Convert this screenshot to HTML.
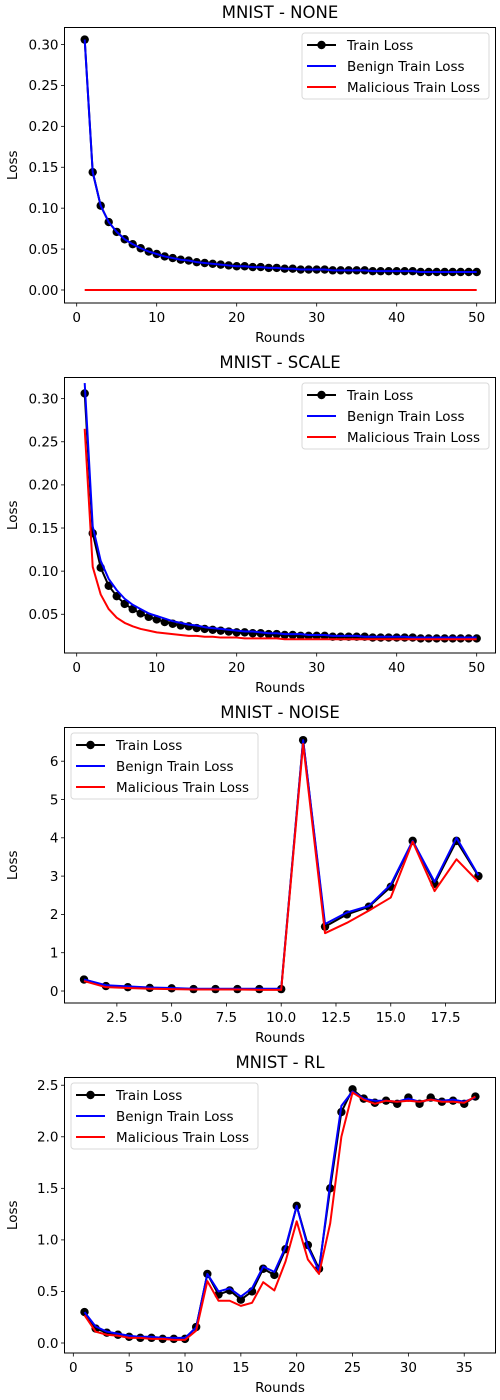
<!DOCTYPE html>
<html><head><meta charset="utf-8"><style>
html,body{margin:0;padding:0;background:#fff;}
svg{display:block;font-family:"DejaVu Sans","Liberation Sans",sans-serif;}
</style></head><body>
<svg id="fig" width="500" height="1400" viewBox="0 0 500 1400" xmlns="http://www.w3.org/2000/svg"></svg>
<script>
// ---- Panel 1: MNIST - NONE
const p1Rounds = Array.from({length:50},(_,i)=>i+1);
const p1Train = [0.306,0.144,0.103,0.083,0.071,0.062,0.056,0.051,0.047,0.044,0.041,0.039,0.037,0.036,0.034,0.033,0.032,0.031,0.030,0.029,0.029,0.028,0.028,0.027,0.027,0.026,0.026,0.025,0.025,0.025,0.025,0.024,0.024,0.024,0.024,0.024,0.023,0.023,0.023,0.023,0.023,0.023,0.022,0.022,0.022,0.022,0.022,0.022,0.022,0.022];
const p1Benign = [0.306,0.144,0.103,0.083,0.071,0.062,0.056,0.051,0.047,0.044,0.041,0.039,0.037,0.036,0.034,0.033,0.032,0.031,0.030,0.029,0.029,0.028,0.028,0.027,0.027,0.026,0.026,0.025,0.025,0.025,0.025,0.024,0.024,0.024,0.024,0.024,0.023,0.023,0.023,0.023,0.023,0.023,0.022,0.022,0.022,0.022,0.022,0.022,0.022,0.022];
const p1Malicious = [0,0,0,0,0,0,0,0,0,0,0,0,0,0,0,0,0,0,0,0,0,0,0,0,0,0,0,0,0,0,0,0,0,0,0,0,0,0,0,0,0,0,0,0,0,0,0,0,0,0];
const p1YTicks = [0,0.05,0.10,0.15,0.20,0.25,0.30];
const p1YLabels = ["0.00","0.05","0.10","0.15","0.20","0.25","0.30"];
const p1XTicks = [0,10,20,30,40,50];
const p1XLabels = ["0","10","20","30","40","50"];
// ---- Panel 2: MNIST - SCALE
const p2Rounds = Array.from({length:50},(_,i)=>i+1);
const p2Train = [0.306,0.144,0.104,0.083,0.071,0.062,0.056,0.051,0.047,0.044,0.041,0.039,0.037,0.036,0.034,0.033,0.032,0.031,0.030,0.029,0.029,0.028,0.028,0.027,0.027,0.026,0.026,0.025,0.025,0.025,0.025,0.024,0.024,0.024,0.024,0.024,0.023,0.023,0.023,0.023,0.023,0.023,0.022,0.022,0.022,0.022,0.022,0.022,0.022,0.022];
const p2Benign = [0.318,0.152,0.112,0.091,0.078,0.068,0.061,0.056,0.051,0.048,0.045,0.042,0.040,0.038,0.037,0.035,0.034,0.033,0.032,0.031,0.030,0.030,0.029,0.028,0.028,0.027,0.027,0.027,0.026,0.026,0.026,0.025,0.025,0.025,0.025,0.024,0.024,0.024,0.024,0.024,0.024,0.023,0.023,0.023,0.023,0.023,0.023,0.023,0.023,0.023];
const p2Malicious = [0.265,0.105,0.073,0.056,0.046,0.040,0.036,0.033,0.031,0.029,0.028,0.027,0.026,0.025,0.025,0.024,0.024,0.023,0.023,0.023,0.022,0.022,0.022,0.022,0.022,0.021,0.021,0.021,0.021,0.021,0.021,0.021,0.021,0.021,0.021,0.021,0.021,0.021,0.021,0.021,0.021,0.021,0.021,0.021,0.021,0.021,0.021,0.021,0.021,0.021];
const p2YTicks = [0.05,0.10,0.15,0.20,0.25,0.30];
const p2YLabels = ["0.05","0.10","0.15","0.20","0.25","0.30"];
const p2XTicks = [0,10,20,30,40,50];
const p2XLabels = ["0","10","20","30","40","50"];
// ---- Panel 3: MNIST - NOISE
const p3Rounds = Array.from({length:19},(_,i)=>i+1);
const p3Train = [0.30,0.13,0.10,0.08,0.07,0.05,0.05,0.05,0.05,0.05,6.55,1.68,2.00,2.20,2.72,3.92,2.80,3.92,3.00];
const p3Benign = [0.30,0.15,0.12,0.09,0.08,0.06,0.06,0.06,0.06,0.06,6.55,1.75,2.05,2.22,2.78,3.92,2.85,4.00,3.02];
const p3Malicious = [0.26,0.10,0.08,0.06,0.05,0.04,0.04,0.04,0.03,0.03,6.45,1.51,1.78,2.10,2.44,3.90,2.61,3.44,2.85];
const p3YTicks = [0,1,2,3,4,5,6];
const p3YLabels = ["0","1","2","3","4","5","6"];
const p3XTicks = [2.5,5,7.5,10,12.5,15,17.5];
const p3XLabels = ["2.5","5.0","7.5","10.0","12.5","15.0","17.5"];
// ---- Panel 4: MNIST - RL
const p4Rounds = Array.from({length:36},(_,i)=>i+1);
const p4Train = [0.30,0.14,0.10,0.08,0.06,0.05,0.05,0.04,0.04,0.04,0.155,0.67,0.47,0.51,0.42,0.50,0.72,0.66,0.91,1.33,0.95,0.72,1.50,2.24,2.46,2.37,2.33,2.35,2.32,2.38,2.32,2.38,2.34,2.35,2.32,2.39];
const p4Benign = [0.30,0.16,0.11,0.09,0.07,0.06,0.06,0.05,0.05,0.05,0.15,0.67,0.50,0.53,0.45,0.53,0.74,0.69,0.93,1.33,0.93,0.70,1.55,2.30,2.44,2.37,2.35,2.35,2.34,2.37,2.34,2.36,2.35,2.36,2.34,2.38];
const p4Malicious = [0.27,0.11,0.08,0.07,0.05,0.05,0.04,0.04,0.03,0.03,0.12,0.60,0.41,0.41,0.36,0.39,0.59,0.51,0.79,1.18,0.81,0.67,1.16,2.00,2.43,2.36,2.32,2.35,2.34,2.35,2.34,2.36,2.34,2.34,2.33,2.39];
const p4YTicks = [0,0.5,1.0,1.5,2.0,2.5];
const p4YLabels = ["0.0","0.5","1.0","1.5","2.0","2.5"];
const p4XTicks = [0,5,10,15,20,25,30,35];
const p4XLabels = ["0","5","10","15","20","25","30","35"];

const NS='http://www.w3.org/2000/svg';
const svg=document.getElementById('fig');
function mk(tag,attrs,parent){const e=document.createElementNS(NS,tag);for(const k in attrs)e.setAttribute(k,attrs[k]);(parent||svg).appendChild(e);return e;}

const panels=[
 {key:'none',title:'MNIST - NONE',x:p1Rounds,tr:p1Train,be:p1Benign,ma:p1Malicious,yt:p1YTicks,yl:p1YLabels,xt:p1XTicks,xl:p1XLabels,xd:[-1.525,52.35],yd:[-0.0159,0.3208],leg:'right'},
 {key:'scale',title:'MNIST - SCALE',x:p2Rounds,tr:p2Train,be:p2Benign,ma:p2Malicious,yt:p2YTicks,yl:p2YLabels,xt:p2XTicks,xl:p2XLabels,xd:[-1.525,52.35],yd:[0.0051,0.3245],leg:'right'},
 {key:'noise',title:'MNIST - NOISE',x:p3Rounds,tr:p3Train,be:p3Benign,ma:p3Malicious,yt:p3YTicks,yl:p3YLabels,xt:p3XTicks,xl:p3XLabels,xd:[0.11,19.78],yd:[-0.313,6.88],leg:'left'},
 {key:'rl',title:'MNIST - RL',x:p4Rounds,tr:p4Train,be:p4Benign,ma:p4Malicious,yt:p4YTicks,yl:p4YLabels,xt:p4XTicks,xl:p4XLabels,xd:[-0.79,37.8],yd:[-0.097,2.575],leg:'left'}
];

panels.forEach((p,i)=>{
 const L=64.5,R=495.5,T=27.5+350*i,B=303+350*i;
 const g=mk('g',{});
 
 
 const sx=v=>L+(v-p.xd[0])/(p.xd[1]-p.xd[0])*(R-L);
 const sy=v=>B-(v-p.yd[0])/(p.yd[1]-p.yd[0])*(B-T);
 const t=mk('text',{x:(L+R)/2,y:T-9.5,'text-anchor':'middle','font-size':'16.5',fill:'#000'},g);t.textContent=p.title;
 
 
 p.yt.forEach((v,j)=>{const y=sy(v);
  mk('line',{x1:L-3.5,x2:L,y1:y,y2:y,stroke:'#000','stroke-width':0.8},g);
  const tx=mk('text',{x:L-6,y:y+4.8,'text-anchor':'end','font-size':'13.5',fill:'#000'},g);tx.textContent=p.yl[j];
  
  
 });
 p.xt.forEach((v,j)=>{const x=sx(v);
  mk('line',{x1:x,x2:x,y1:B,y2:B+3.5,stroke:'#000','stroke-width':0.8},g);
  const tx=mk('text',{x:x,y:B+19,'text-anchor':'middle','font-size':'13.5',fill:'#000'},g);tx.textContent=p.xl[j];
  
  
 });
 const xl=mk('text',{x:(L+R)/2,y:B+39,'text-anchor':'middle','font-size':'13.5',fill:'#000'},g);xl.textContent='Rounds';
 
 
 const cy=(T+B)/2;
 const yl=mk('text',{x:17,y:cy,'text-anchor':'middle','font-size':'13.5',fill:'#000',transform:`rotate(-90 17 ${cy})`},g);yl.textContent='Loss';
 
 
 const pts=arr=>arr.map((v,k)=>sx(p.x[k]).toFixed(2)+','+sy(v).toFixed(2)).join(' ');
 const lt=mk('polyline',{points:pts(p.tr),fill:'none',stroke:'#000','stroke-width':2,'stroke-linejoin':'round'},g);
 
 
 p.tr.forEach((v,k)=>{const c=mk('circle',{cx:sx(p.x[k]),cy:sy(v),r:4.2,fill:'#000'},g);
  
  });
 const lb=mk('polyline',{points:pts(p.be),fill:'none',stroke:'#0000ff','stroke-width':2,'stroke-linejoin':'round'},g);
 
 
 const lm=mk('polyline',{points:pts(p.ma),fill:'none',stroke:'#ff0000','stroke-width':2,'stroke-linejoin':'round'},g);
 
 
 const fr=mk('rect',{x:L,y:T,width:R-L,height:B-T,fill:'none',stroke:'#000','stroke-width':1},g);
 
 
 const lx=p.leg==='right'?302:71, ly=T+5.5, lw=187, lh=66;
 const lg=mk('g',{},g);
 
 
 mk('rect',{x:lx,y:ly,width:lw,height:lh,rx:3,fill:'#fff','fill-opacity':0.8,stroke:'#d9d9d9','stroke-width':1},lg);
 const ents=[['Train Loss','#000',true],['Benign Train Loss','#0000ff',false],['Malicious Train Loss','#ff0000',false]];
 ents.forEach((e,k)=>{const yy=ly+12+k*21;
  const eg=mk('g',{},lg);
  
  
  mk('line',{x1:lx+5,x2:lx+34,y1:yy,y2:yy,stroke:e[1],'stroke-width':2},eg);
  if(e[2])mk('circle',{cx:lx+19.5,cy:yy,r:4.2,fill:'#000'},eg);
  const tx=mk('text',{x:lx+45,y:yy+4.8,'font-size':'13.5',fill:'#000'},eg);tx.textContent=e[0];
 });
});
</script>
</body></html>
